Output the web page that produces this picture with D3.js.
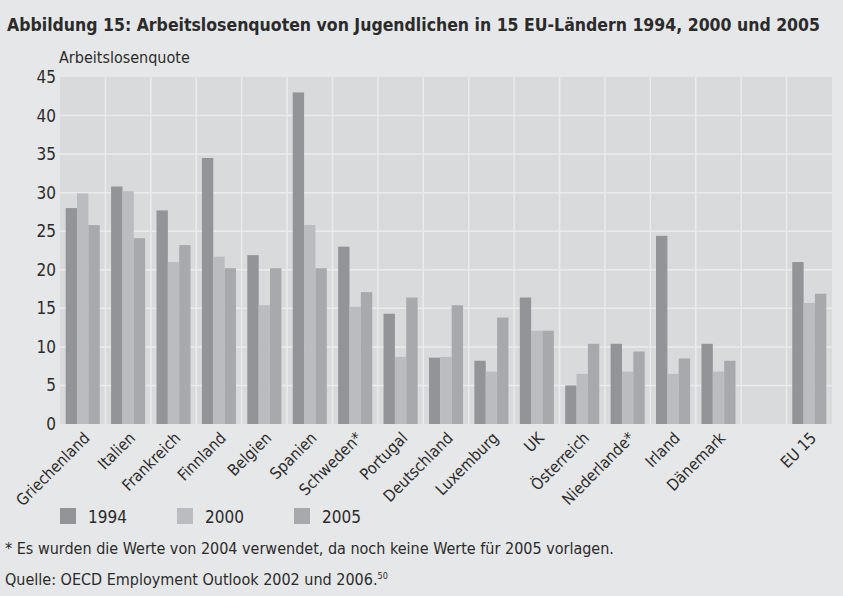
<!DOCTYPE html>
<html>
<head>
<meta charset="utf-8">
<script src="https://cdn.jsdelivr.net/npm/d3@7"></script>
<style>
  body { margin: 0; background: #e6e7e9; }
  svg { display: block; }
  text { font-family: "Liberation Sans Narrow", "DejaVu Sans Condensed", sans-serif; fill: #2b2b2b; }
</style>
</head>
<body>
<svg id="chart1" width="843" height="596"></svg>
<script>
// countries (empty slot before EU 15)
const categories = ["Griechenland", "Italien", "Frankreich", "Finnland", "Belgien", "Spanien",
  "Schweden*", "Portugal", "Deutschland", "Luxemburg", "UK", "Österreich", "Niederlande*",
  "Irland", "Dänemark", "", "EU 15"];
const years = ["1994", "2000", "2005"];
const v1994 = [28.0, 30.8, 27.7, 34.5, 21.9, 43.0, 23.0, 14.3, 8.6, 8.2, 16.4, 5.0, 10.4, 24.4, 10.4, null, 21.0];
const v2000 = [29.9, 30.2, 21.0, 21.7, 15.4, 25.8, 15.2, 8.7, 8.7, 6.8, 12.1, 6.5, 6.8, 6.5, 6.8, null, 15.7];
const v2005 = [25.8, 24.1, 23.2, 20.2, 20.2, 20.2, 17.1, 16.4, 15.4, 13.8, 12.1, 10.4, 9.4, 8.5, 8.2, null, 16.9];
const yTicks = [0, 5, 10, 15, 20, 25, 30, 35, 40, 45];
const colors = ["#939497", "#bbbcbf", "#a8a9ac"];

const margin = { left: 60, right: 11, top: 77, bottom: 172 };
const W = 843, H = 596;
const svg = d3.select("#chart1");

const x0 = d3.scaleBand().domain(categories).range([margin.left, W - margin.right]);
const x1 = d3.scaleBand().domain(years).range([0, x0.bandwidth()]).paddingOuter(0.5).paddingInner(0);
const y = d3.scaleLinear().domain([0, 45]).range([H - margin.bottom, margin.top]);

// plot background
svg.append("rect")
  .attr("x", margin.left).attr("y", margin.top)
  .attr("width", W - margin.right - margin.left)
  .attr("height", y(0) - margin.top)
  .attr("fill", "#d9dadc");

// grid
svg.append("g").selectAll("line.h")
  .data(yTicks.slice(1, -1))
  .join("line")
    .attr("x1", margin.left).attr("x2", W - margin.right)
    .attr("y1", d => y(d)).attr("y2", d => y(d))
    .attr("stroke", "#ebebed").attr("stroke-width", 1.5);
svg.append("g").selectAll("line.v")
  .data(categories.slice(1))
  .join("line")
    .attr("x1", d => x0(d)).attr("x2", d => x0(d))
    .attr("y1", margin.top).attr("y2", y(0))
    .attr("stroke", "#ebebed").attr("stroke-width", 1.5);

// bars
const series = [v1994, v2000, v2005];
const rows = [];
categories.forEach((c, i) => {
  years.forEach((yr, j) => {
    if (series[j][i] != null) rows.push({ c: c, yr: yr, v: series[j][i], k: j });
  });
});
svg.append("g").selectAll("rect")
  .data(rows)
  .join("rect")
    .attr("x", d => x0(d.c) + x1(d.yr))
    .attr("width", x1.bandwidth())
    .attr("y", d => y(d.v))
    .attr("height", d => y(0) - y(d.v))
    .attr("fill", d => colors[d.k]);

// y axis
const yAxisG = svg.append("g")
  .attr("transform", "translate(" + (margin.left - 4) + ",0)")
  .call(d3.axisLeft(y).tickValues(yTicks).tickSize(0).tickPadding(0));
yAxisG.select(".domain").remove();
yAxisG.selectAll("text").style("font-size", "17px").attr("fill", "#2b2b2b")
  .style("font-family", "\"Liberation Sans Narrow\", \"DejaVu Sans Condensed\", sans-serif");

// x axis
const xAxisG = svg.append("g")
  .attr("transform", "translate(0," + y(0) + ")")
  .call(d3.axisBottom(x0).tickSize(0).tickPadding(0));
xAxisG.select(".domain").remove();
xAxisG.selectAll("text")
  .style("font-size", "16px").attr("fill", "#2b2b2b")
  .style("font-family", "\"Liberation Sans Narrow\", \"DejaVu Sans Condensed\", sans-serif")
  .attr("text-anchor", "end")
  .attr("dy", 0).attr("y", 0)
  .attr("transform", "translate(8,15) rotate(-45)");

// title and y label (title squeezed to the reference's width)
svg.append("text")
  .attr("x", 7).attr("y", 31)
  .style("font-size", "18px").style("font-weight", "bold")
  .attr("textLength", 813).attr("lengthAdjust", "spacingAndGlyphs")
  .text("Abbildung 15: Arbeitslosenquoten von Jugendlichen in 15 EU-Ländern 1994, 2000 und 2005");
svg.append("text")
  .attr("x", 59).attr("y", 63)
  .style("font-size", "16px")
  .text("Arbeitslosenquote");

// legend
const legend = svg.append("g").selectAll("g")
  .data(years)
  .join("g")
    .attr("transform", (d, i) => "translate(" + [60, 177, 294][i] + ",508)");
legend.append("rect").attr("width", 16).attr("height", 16).attr("fill", (d, i) => colors[i]);
legend.append("text").attr("x", 28).attr("y", 14.5).style("font-size", "17px").text(d => d);

// notes
svg.append("text")
  .attr("x", 5).attr("y", 554)
  .style("font-size", "16px")
  .text("* Es wurden die Werte von 2004 verwendet, da noch keine Werte für 2005 vorlagen.");
const src = svg.append("text")
  .attr("x", 5).attr("y", 585)
  .style("font-size", "16px")
  .text("Quelle: OECD Employment Outlook 2002 und 2006.");
src.append("tspan").attr("dy", -6).style("font-size", "9px").text("50");
</script>
</body>
</html>
